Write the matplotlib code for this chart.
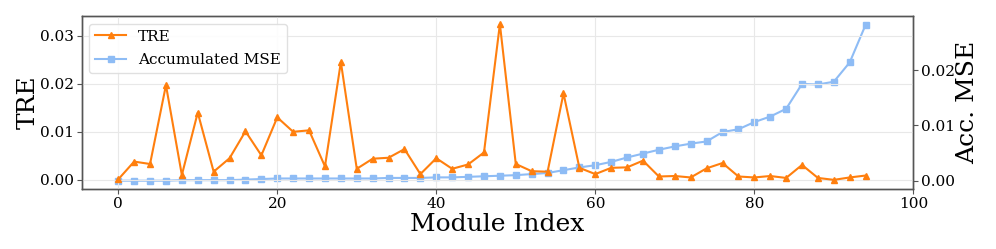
import matplotlib
matplotlib.use("Agg")
import matplotlib.pyplot as plt
from matplotlib.ticker import FormatStrFormatter

plt.rcParams['font.family'] = ['DejaVu Serif']

module_index = list(range(0, 96, 2))
tre = [0.0001, 0.0038, 0.0033, 0.0197, 0.0010, 0.0140, 0.0017, 0.0045, 0.0101, 0.0051,
       0.0130, 0.0100, 0.0103, 0.0028, 0.0245, 0.0023, 0.0044, 0.0046, 0.0064, 0.0012,
       0.0045, 0.0023, 0.0032, 0.0057, 0.0324, 0.0033, 0.0018, 0.0017, 0.0180, 0.0025,
       0.0012, 0.0025, 0.0026, 0.0040, 0.0007, 0.0008, 0.0005, 0.0024, 0.0035, 0.0007,
       0.0005, 0.0008, 0.0004, 0.0031, 0.0004, 0.0000, 0.0005, 0.0009]
acc_mse = [0.0000, 0.0000, 0.0000, 0.0000, 0.0001, 0.0001, 0.0001, 0.0001, 0.0002, 0.0003,
           0.0004, 0.0004, 0.0004, 0.0004, 0.0004, 0.0004, 0.0004, 0.0005, 0.0005, 0.0005,
           0.0006, 0.0006, 0.0007, 0.0008, 0.0009, 0.0010, 0.0012, 0.0014, 0.0019, 0.0024,
           0.0028, 0.0034, 0.0042, 0.0049, 0.0056, 0.0062, 0.0067, 0.0071, 0.0088, 0.0093,
           0.0106, 0.0116, 0.0130, 0.0175, 0.0174, 0.0179, 0.0214, 0.0282]
x_ticks = [0, 20, 40, 60, 80, 100]
tre_ticks = [0.00, 0.01, 0.02, 0.03]
mse_ticks = [0.00, 0.01, 0.02]

orange = '#ff7f0e'
blue = '#8ebcf5'
spine_c = '#555555'

fig = plt.figure(figsize=(9.96, 2.49), dpi=100)
ax = fig.add_axes([0.082, 0.241, 0.835, 0.695])
ax2 = ax.twinx()

l1, = ax.plot(module_index, tre, color=orange, marker='^', markersize=5, linewidth=1.5, label='TRE', zorder=3)
l2, = ax2.plot(module_index, acc_mse, color=blue, marker='s', markersize=5, linewidth=1.5, label='Accumulated MSE')

ax.set_xlim(-4.6, 100)
ax.set_ylim(-0.0019, 0.0341)
ax2.set_ylim(-0.0015, 0.0298)
ax.set_xticks(x_ticks)
ax.set_yticks(tre_ticks)
ax2.set_yticks(mse_ticks)
ax.yaxis.set_major_formatter(FormatStrFormatter('%.2f'))
ax2.yaxis.set_major_formatter(FormatStrFormatter('%.2f'))

ax.grid(True, color='#e8e8e8', linewidth=0.8)
ax.set_axisbelow(True)

for a in (ax, ax2):
    for s in a.spines.values():
        s.set_color(spine_c)
        s.set_linewidth(1.0)
    a.tick_params(labelsize=11, length=3.5, width=0.8, color=spine_c, pad=2)

ax.set_xlabel('Module Index', fontsize=18, labelpad=2)
ax.set_ylabel('TRE', fontsize=18, labelpad=0.5)
ax2.set_ylabel('Acc. MSE', fontsize=18, labelpad=1)

leg = ax.legend([l1, l2], ['TRE', 'Accumulated MSE'], loc='upper left', fontsize=11,
                frameon=True, fancybox=True, framealpha=0.9, edgecolor='#dddddd',
                bbox_to_anchor=(0.0, 1.0), borderaxespad=0.5, labelspacing=0.6)
ax.set_zorder(ax2.get_zorder() + 1)
ax.patch.set_visible(False)

fig.savefig('out.png', dpi=100)
